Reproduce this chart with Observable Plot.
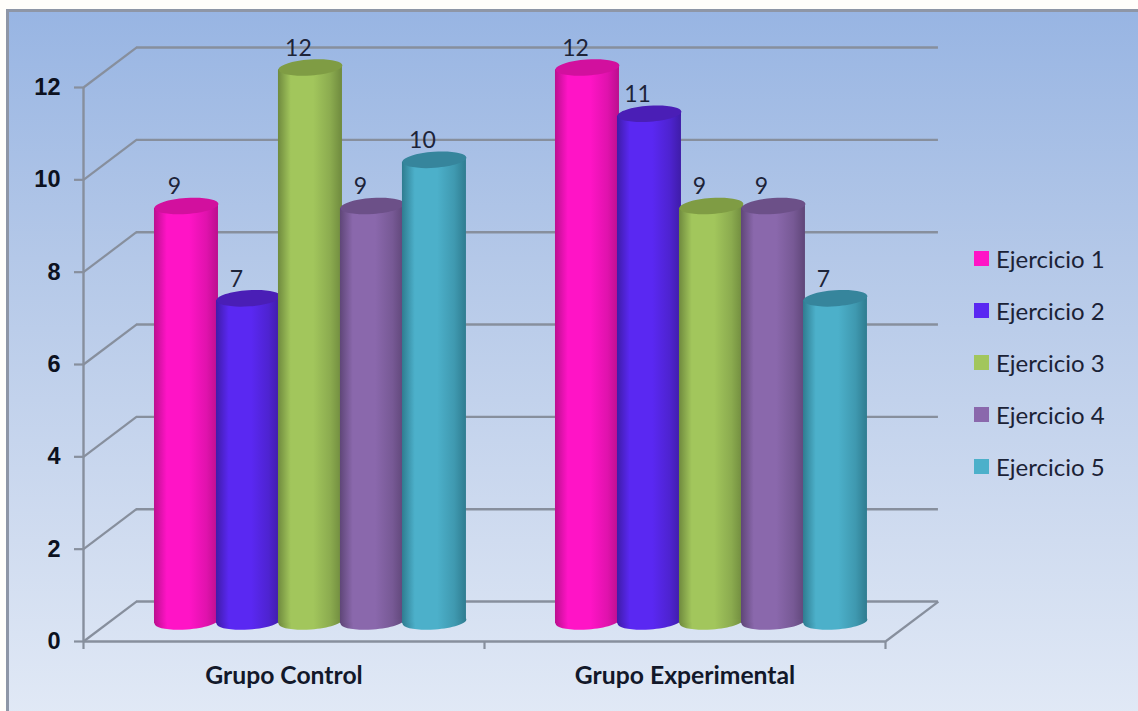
<!DOCTYPE html>
<html lang="es">
<head>
<meta charset="utf-8">
<title>Ejercicios por grupo</title>
<script src="https://cdn.jsdelivr.net/npm/d3@7"></script>
<script src="https://cdn.jsdelivr.net/npm/@observablehq/plot@0.6"></script>
<style>
  html, body { margin: 0; padding: 0; background: #fffefb; overflow: hidden; }
  #panel {
    position: absolute; left: 6px; top: 9px; width: 1140px; height: 710px;
    border: 3px solid #8e96a6; box-sizing: border-box;
    background: linear-gradient(180deg, #98b5e3 0%, #b4c8e8 35%, #d0dcf0 75%, #e1e9f6 100%);
  }
  #chart { position: absolute; left: 0; top: 0; }
  #chart svg { display: block; background: transparent; }
  #legend { position: absolute; left: 974px; top: 232px; font: 24px Lato, sans-serif; color: #1b2236; }
  #legend div { height: 52.2px; display: flex; align-items: center; white-space: nowrap; }
  #legend i { width: 15px; height: 15px; margin-right: 7px; display: block; }
</style>
</head>
<body>
<div id="panel"></div>
<div id="chart"></div>
<div id="legend"></div>
<script>
// Puntuaciones por ejercicio en cada grupo
const grupos = ["Grupo Control", "Grupo Experimental"];
const ejercicios = ["Ejercicio 1", "Ejercicio 2", "Ejercicio 3", "Ejercicio 4", "Ejercicio 5"];
const grupoControl = [9, 7, 12, 9, 10];
const grupoExperimental = [12, 11, 9, 9, 7];
const yTicks = [0, 2, 4, 6, 8, 10, 12];
const xTicks = [0, 1, 2];

// Colores de cada ejercicio: base, borde sombreado y tapa del cilindro
const colorBase = ["#ff14c6", "#5a28f2", "#a2c65c", "#8a68ac", "#4cb0ca"];
const colorBorde = ["#bb0f8e", "#3f1ca8", "#6f8a3e", "#5f4678", "#2f7c90"];
const colorTapa = ["#d2109e", "#4a1eb6", "#7f9c44", "#6c5088", "#36859c"];
const colorEje = "#878f9d";

// Perspectiva del gráfico 3D, en unidades de los ejes
const fondoX = 0.132;
const fondoY = 0.866;
const pasoBarra = 0.1546;
const anchoBarra = 0.1596;
const inclinacion = 0.048;

const filas = [grupoControl, grupoExperimental].flatMap((valores, g) =>
  valores.map((valor, e) => ({
    grupo: grupos[g],
    ejercicio: e,
    valor,
    x: g + 0.5 + (e - 2) * pasoBarra + fondoX / 2
  }))
);

// Elipse inclinada usada para la base y la tapa de cada cilindro
const elipse = {
  draw(context, size) {
    const a = Math.sqrt(size / Math.PI), b = a * 0.25, t = -0.07, k = 0.5523;
    const c = Math.cos(t), s = Math.sin(t);
    const p = (x, y) => [x * c - y * s, x * s + y * c];
    context.moveTo(...p(a, 0));
    context.bezierCurveTo(...p(a, k * b), ...p(k * a, b), ...p(0, b));
    context.bezierCurveTo(...p(-k * a, b), ...p(-a, k * b), ...p(-a, 0));
    context.bezierCurveTo(...p(-a, -k * b), ...p(-k * a, -b), ...p(0, -b));
    context.bezierCurveTo(...p(k * a, -b), ...p(a, -k * b), ...p(a, 0));
    context.closePath();
  }
};

// Degradados horizontales que dan volumen a los cilindros
function degradados() {
  const defs = d3.create("svg:defs");
  colorBase.forEach((base, i) => {
    const g = defs.append("linearGradient").attr("id", `cilindro${i}`);
    [[0, colorBorde[i]], [0.2, base], [0.55, base], [0.82, d3.interpolateRgb(base, colorBorde[i])(0.45)], [1, colorBorde[i]]]
      .forEach(([o, c]) => g.append("stop").attr("offset", o).attr("stop-color", c));
  });
  return defs.node();
}

// Cada cilindro se dibuja completo, de izquierda a derecha, para que el siguiente lo solape.
// El cuerpo tiene los extremos inclinados, igual que las elipses.
const cilindros = filas.flatMap((d) => [
  Plot.dot([d], { x: (r) => r.x, y: () => fondoY / 2, r: 32, symbol: elipse, fill: `url(#cilindro${d.ejercicio})`, stroke: "none" }),
  Plot.areaY([-1, 1], {
    x: (lado) => d.x + (lado * anchoBarra) / 2,
    y1: (lado) => fondoY / 2 + lado * inclinacion,
    y2: (lado) => d.valor + fondoY / 2 + lado * inclinacion,
    fill: `url(#cilindro${d.ejercicio})`
  }),
  Plot.dot([d], { x: (r) => r.x, y: (r) => r.valor + fondoY / 2, r: 32, symbol: elipse, fill: colorTapa[d.ejercicio], stroke: "none" })
]);

const chart = Plot.plot({
  width: 1138,
  height: 711,
  marginLeft: 83,
  marginRight: 253,
  marginTop: 87,
  marginBottom: 70,
  x: { domain: [0, 2], axis: null },
  y: { domain: [0, 12], axis: null },
  style: { background: "transparent", overflow: "visible" },
  marks: [
    degradados,
    // Pared del fondo y diagonales laterales
    Plot.ruleY(yTicks, { y: (d) => d + fondoY, x1: () => fondoX, x2: () => 2 + fondoX, stroke: colorEje, strokeWidth: 2.4 }),
    Plot.link(yTicks, { x1: () => 0, y1: (d) => d, x2: () => fondoX, y2: (d) => d + fondoY, stroke: colorEje, strokeWidth: 2.2 }),
    Plot.link([0], { x1: () => 2, y1: () => 0, x2: () => 2 + fondoX, y2: () => fondoY, stroke: colorEje, strokeWidth: 2.2 }),
    // Ejes frontales
    Plot.ruleX([0], { y1: () => 0, y2: () => 12, stroke: colorEje, strokeWidth: 2.4 }),
    Plot.ruleY([0], { x1: () => 0, x2: () => 2, stroke: colorEje, strokeWidth: 2.4 }),
    Plot.axisY({
      ticks: yTicks, tickSize: 9, tickPadding: 14, stroke: colorEje, strokeWidth: 2.2,
      fill: "#0c1120", fontSize: 23.5, fontWeight: "bold", fontFamily: "Liberation Sans", label: null
    }),
    Plot.axisX({ ticks: xTicks, tickSize: 8, stroke: colorEje, strokeWidth: 2.2, tickFormat: () => "", label: null }),
    ...cilindros,
    // Valores sobre cada cilindro
    Plot.text(filas, {
      x: (d) => d.x,
      y: (d) => d.valor + fondoY / 2,
      text: (d) => String(d.valor),
      dx: -12, dy: -19,
      fontSize: 23, fontFamily: "Lato", fill: "#1d2439"
    }),
    // Nombres de los grupos
    Plot.text(grupos, {
      x: (d, i) => i + 0.5,
      y: () => 0,
      text: (d) => d,
      dy: 35,
      fontSize: 24.7, fontWeight: "bold", fontFamily: "Lato", fill: "#12182a"
    })
  ]
});
document.getElementById("chart").append(chart);

// Leyenda de ejercicios
const legend = d3.select("#legend");
ejercicios.forEach((nombre, i) => {
  const fila = legend.append("div");
  fila.append("i").style("background", colorBase[i]);
  fila.append("span").text(nombre);
});
</script>
</body>
</html>
